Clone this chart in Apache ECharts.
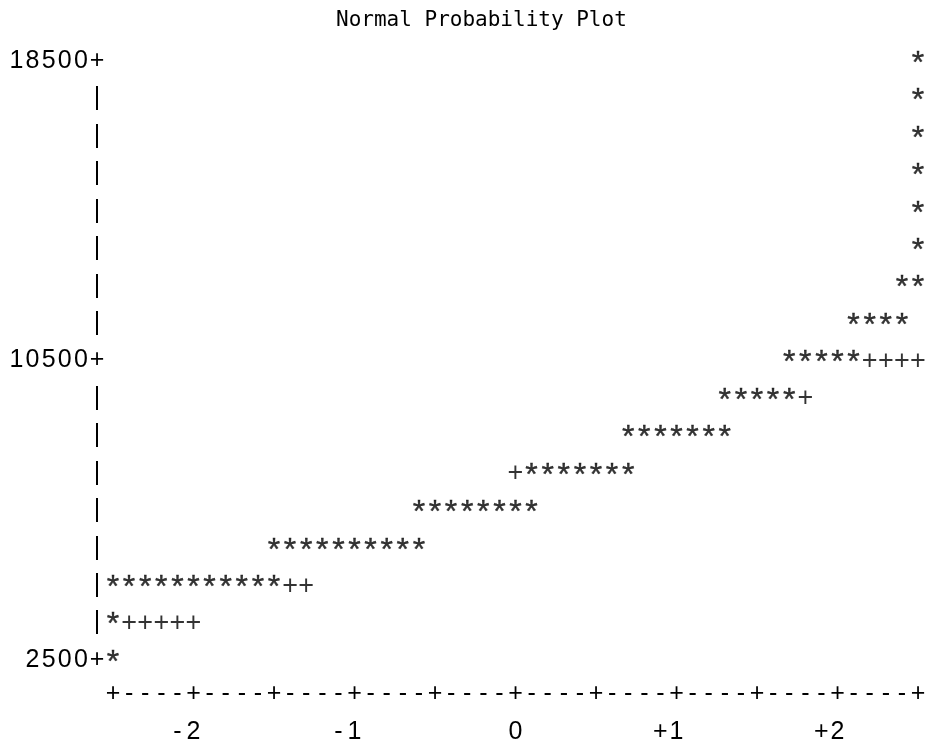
<!DOCTYPE html>
<html>
<head>
<meta charset="utf-8">
<script src="https://cdn.jsdelivr.net/npm/echarts@6/dist/echarts.min.js"></script>
<style>
html,body{margin:0;padding:0;background:#fff;}
#chart{width:931px;height:741px;}
</style>
</head>
<body>
<div id="chart"></div>
<script>
// ---- data ----
const titleText = 'Normal Probability Plot';
// observed values (one per plot row) and the normal quantiles where '*' appears
const starValue = [18500, 17500, 16500, 15500, 14500, 13500, 12500, 11500, 10500, 9500, 8500, 7500, 6500, 5500, 4500, 3500, 2500];
const starQuantiles = [
  [2.5],
  [2.5],
  [2.5],
  [2.5],
  [2.5],
  [2.5],
  [2.4, 2.5],
  [2.1, 2.2, 2.3, 2.4],
  [1.7, 1.8, 1.9, 2.0, 2.1],
  [1.3, 1.4, 1.5, 1.6, 1.7],
  [0.7, 0.8, 0.9, 1.0, 1.1, 1.2, 1.3],
  [0.1, 0.2, 0.3, 0.4, 0.5, 0.6, 0.7],
  [-0.6, -0.5, -0.4, -0.3, -0.2, -0.1, 0.0, 0.1],
  [-1.5, -1.4, -1.3, -1.2, -1.1, -1.0, -0.9, -0.8, -0.7, -0.6],
  [-2.5, -2.4, -2.3, -2.2, -2.1, -2.0, -1.9, -1.8, -1.7, -1.6, -1.5],
  [-2.5],
  [-2.5]
];
// normal reference line marks '+'
const refValue = [10500, 9500, 7500, 4500, 3500];
const refQuantiles = [
  [2.2, 2.3, 2.4, 2.5],
  [1.8],
  [0.0],
  [-1.4, -1.3],
  [-2.4, -2.3, -2.2, -2.1, -2.0]
];
// tick labels
const yTickLabels = ['2500', '10500', '18500'];
const xTickLabels = ['-2', '-1', '0', '+1', '+2'];

// ---- build ----
const FONT = 'Liberation Sans, Arial, Helvetica, sans-serif';
const FS = 25;
const CELL = 16.1;

function pairs(values, quantiles) {
  const out = [];
  values.forEach((v, i) => quantiles[i].forEach(q => out.push([q, v])));
  return out;
}
function cells(str) {
  return str.split('').map(ch => '{c|' + ch + '}').join('');
}
const richCell = { c: { width: CELL, align: 'center', fontSize: FS, fontFamily: FONT, color: '#000' } };
const isHalf = v => Math.abs(v * 2 - Math.round(v * 2)) < 1e-6;
const near = (a, b) => Math.abs(a - b) < 1e-6;

const hidden = { axisLine: { show: false }, axisTick: { show: false }, splitLine: { show: false } };

const chart = echarts.init(document.getElementById('chart'), null, { renderer: 'canvas' });
chart.setOption({
  animation: false,
  backgroundColor: '#fff',
  title: {
    text: titleText,
    left: 331, top: 5, padding: 5,
    textStyle: { fontFamily: 'DejaVu Sans Mono', fontSize: 21, fontWeight: 'normal', color: '#000' }
  },
  grid: { left: 113, right: 13, top: 61, bottom: 81, outerBoundsMode: 'none', containLabel: false },
  xAxis: [
    Object.assign({
      type: 'value', min: -2.5, max: 2.5, interval: 0.1, position: 'bottom',
      axisLabel: {
        show: true, margin: 34.5, verticalAlign: 'middle', showMinLabel: true, showMaxLabel: true,
        fontSize: FS, fontFamily: FONT, color: '#000',
        formatter: v => isHalf(v) ? '+' : '-'
      }
    }, hidden),
    Object.assign({
      type: 'value', min: -2.5, max: 2.5, interval: 0.5, position: 'bottom',
      axisLabel: {
        show: true, margin: 72, verticalAlign: 'middle',
        fontSize: FS, fontFamily: FONT, color: '#000', rich: richCell,
        formatter: v => {
          const lab = xTickLabels.find(t => near(parseFloat(t), v));
          if (!lab) return '';
          const sign = lab.length > 1 ? lab[0] : ' ';
          const digit = lab[lab.length - 1];
          return cells(sign + digit + ' ');
        }
      }
    }, hidden)
  ],
  yAxis: Object.assign({
    type: 'value', min: 2500, max: 18500, interval: 500,
    axisLabel: {
      show: true, margin: 8, verticalAlign: 'middle', showMinLabel: true, showMaxLabel: true,
      fontSize: FS, fontFamily: FONT, color: '#000', rich: richCell,
      formatter: v => {
        if (yTickLabels.indexOf(String(v)) >= 0) return cells(String(v) + '+');
        if (Math.abs((v - 2500) % 1000) < 1e-6) return '{c||}';
        return '';
      }
    }
  }, hidden),
  series: [
    {
      type: 'scatter', xAxisIndex: 0, yAxisIndex: 0, silent: true,
      symbol: 'circle', symbolSize: 1, itemStyle: { color: 'rgba(0,0,0,0)' },
      label: {
        show: true, position: 'inside', formatter: '*', fontSize: 32, fontFamily: FONT,
        color: '#000', textBorderColor: '#000', textBorderWidth: 0.4, offset: [0, 3]
      },
      data: pairs(starValue, starQuantiles)
    },
    {
      type: 'scatter', xAxisIndex: 0, yAxisIndex: 0, silent: true,
      symbol: 'circle', symbolSize: 1, itemStyle: { color: 'rgba(0,0,0,0)' },
      label: { show: true, position: 'inside', formatter: '+', fontSize: 27, fontFamily: FONT, color: '#000', offset: [0, 1] },
      data: pairs(refValue, refQuantiles)
    }
  ]
});
</script>
</body>
</html>
